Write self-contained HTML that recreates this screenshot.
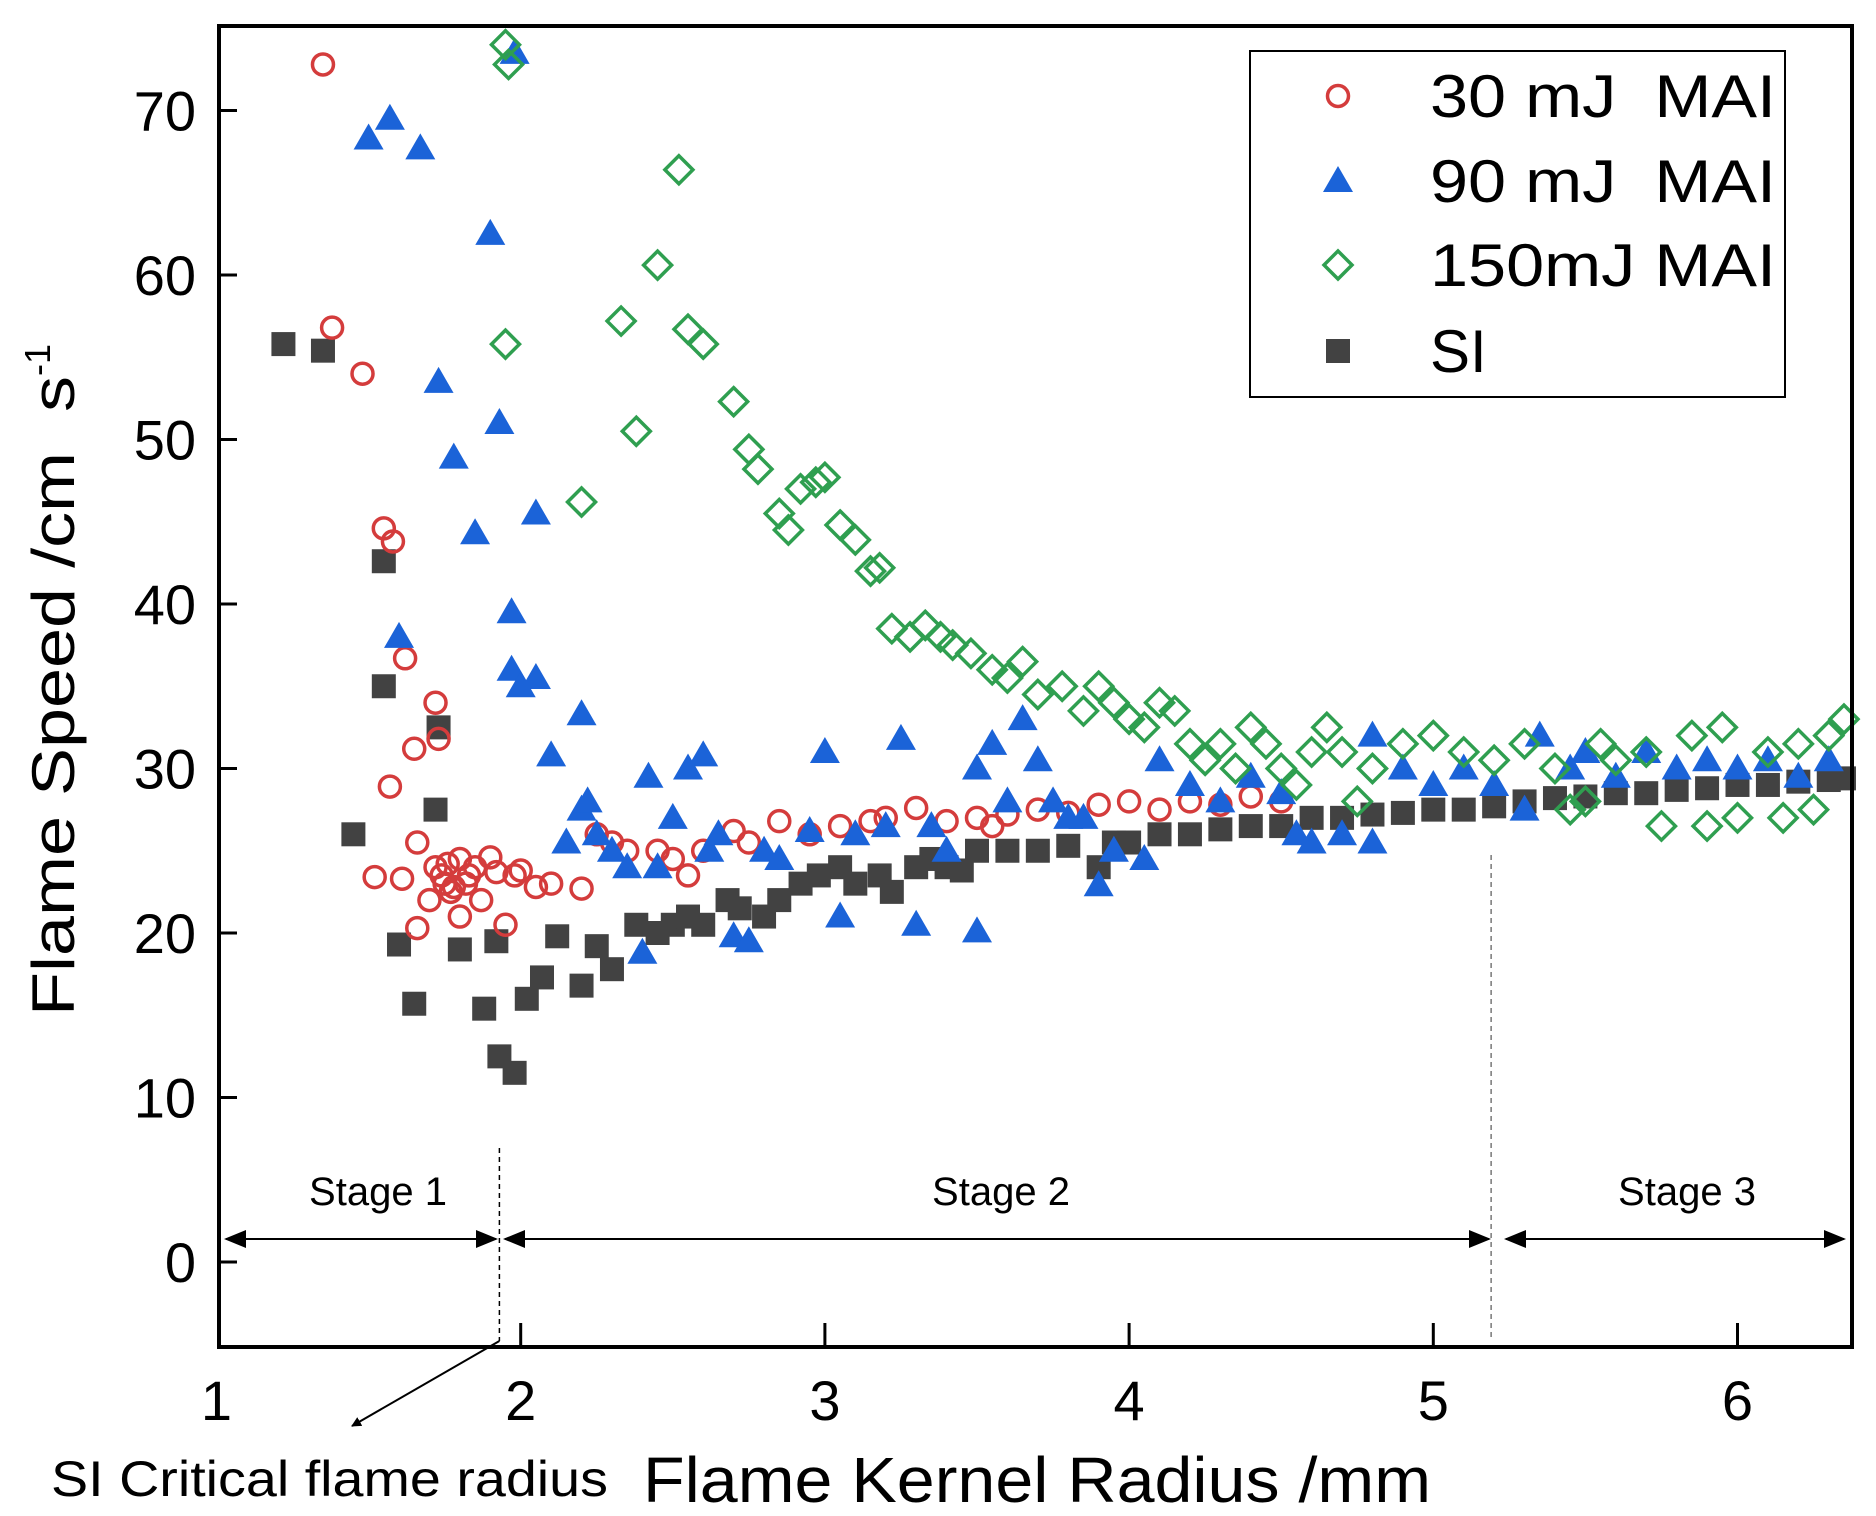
<!DOCTYPE html>
<html><head><meta charset="utf-8"><style>
html,body{margin:0;padding:0;background:#fff;}
svg{display:block;font-family:"Liberation Sans",Arial,sans-serif;}
</style></head><body>
<svg id="chart" width="1876" height="1516" viewBox="0 0 1876 1516">
<defs>
<marker id="ah" markerWidth="10" markerHeight="10" refX="9" refY="5" orient="auto" markerUnits="userSpaceOnUse"><path d="M0,0 L10,5 L0,10 z" fill="#000"/></marker>
<marker id="ah2" markerWidth="22" markerHeight="18" refX="20" refY="9" orient="auto-start-reverse" markerUnits="userSpaceOnUse"><path d="M0,0 L22,9 L0,18 z" fill="#000"/></marker>
</defs>
<g id="plot"></g>
</svg>
<script>
const xTicks=[1,2,3,4,5,6];
const yTicks=[0,10,20,30,40,50,60,70];
const si_x=[1.22,1.35,1.45,1.55,1.55,1.6,1.65,1.73,1.72,1.8,1.88,1.92,1.93,1.98,2.02,2.07,2.12,2.2,2.25,2.3,2.38,2.45,2.5,2.55,2.6,2.68,2.72,2.8,2.85,2.92,2.98,3.05,3.1,3.18,3.22,3.3,3.35,3.4,3.45,3.5,3.6,3.7,3.8,3.9,3.95,4.0,4.1,4.2,4.3,4.4,4.5,4.6,4.7,4.8,4.9,5.0,5.1,5.2,5.3,5.4,5.5,5.6,5.7,5.8,5.9,6.0,6.1,6.2,6.3,6.35];
const si_y=[55.8,55.4,26,42.6,35,19.3,15.7,32.5,27.5,19,15.4,19.5,12.5,11.5,16,17.3,19.8,16.8,19.2,17.8,20.5,20,20.5,21,20.5,22,21.5,21,22,23,23.5,24,23,23.5,22.5,24,24.5,24,23.8,25,25,25,25.3,24,25.5,25.5,26,26,26.3,26.5,26.5,27,27,27.2,27.3,27.5,27.5,27.7,28,28.2,28.3,28.5,28.5,28.7,28.8,29,29,29.2,29.3,29.4];
const mai30_x=[1.35,1.38,1.48,1.52,1.55,1.58,1.57,1.62,1.61,1.65,1.66,1.66,1.72,1.73,1.7,1.72,1.75,1.77,1.8,1.8,1.83,1.85,1.87,1.9,1.92,1.95,1.98,2.0,2.05,2.1,2.2,2.25,2.3,2.35,2.45,2.5,2.55,2.6,2.7,2.75,2.85,2.95,3.05,3.15,3.2,3.3,3.4,3.5,3.55,3.6,3.7,3.8,3.9,4.0,4.1,4.2,4.3,4.4,4.5,1.74,1.78,1.82,1.76];
const mai30_y=[72.8,56.8,54,23.4,44.6,43.8,28.9,36.7,23.3,31.2,25.5,20.3,34,31.8,22,24,23,22.5,24.5,21,23.5,24,22,24.6,23.7,20.5,23.5,23.8,22.8,23,22.7,26,25.5,25,25,24.5,23.5,25,26.2,25.5,26.8,26,26.5,26.8,27,27.6,26.8,27,26.5,27.2,27.5,27.3,27.8,28,27.5,28,27.8,28.3,28,23.5,22.8,23,24.2];
const mai90_x=[1.5,1.57,1.67,1.73,1.78,1.85,1.9,1.93,1.98,1.6,1.97,1.97,2.0,2.05,2.05,2.1,2.15,2.2,2.2,2.22,2.25,2.3,2.35,2.4,2.42,2.45,2.5,2.55,2.6,2.62,2.65,2.7,2.75,2.8,2.85,2.95,3.0,3.05,3.1,3.2,3.25,3.3,3.35,3.4,3.5,3.5,3.55,3.6,3.65,3.7,3.75,3.8,3.85,3.9,3.95,4.05,4.1,4.2,4.3,4.4,4.5,4.55,4.6,4.7,4.8,4.8,4.9,5.0,5.1,5.2,5.3,5.35,5.45,5.5,5.6,5.7,5.8,5.9,6.0,6.1,6.2,6.3];
const mai90_y=[68.3,69.5,67.7,53.5,48.9,44.3,62.5,51,73.5,38,39.5,36,35,35.5,45.5,30.8,25.5,27.5,33.3,28,26,25,24,18.8,29.5,24,27,30,30.8,25,26,19.8,19.5,25,24.5,26.2,31,21,26,26.5,31.8,20.5,26.5,25,20.1,30,31.5,28,33,30.5,28,27,27,22.9,25,24.5,30.5,29,28,29.5,28.5,26,25.5,26,25.5,32,30,29,30,29,27.5,32,30,31,29.5,31,30,30.5,30,30.5,29.5,30.5];
const mai150_x=[1.95,1.96,1.95,2.2,2.33,2.38,2.45,2.52,2.55,2.6,2.7,2.75,2.78,2.85,2.88,2.92,2.97,3.0,3.05,3.1,3.15,3.18,3.22,3.28,3.33,3.38,3.42,3.48,3.55,3.6,3.65,3.7,3.78,3.85,3.9,3.95,4.0,4.05,4.1,4.15,4.2,4.25,4.3,4.35,4.4,4.45,4.5,4.55,4.6,4.65,4.7,4.75,4.8,4.9,5.0,5.1,5.2,5.3,5.4,5.45,5.5,5.55,5.6,5.7,5.75,5.85,5.9,5.95,6.0,6.1,6.15,6.2,6.25,6.3,6.35];
const mai150_y=[74,72.8,55.8,46.2,57.2,50.5,60.6,66.4,56.7,55.8,52.3,49.4,48.2,45.5,44.5,47,47.4,47.7,44.8,43.9,42,42.2,38.5,38,38.7,38,37.5,37,36,35.5,36.5,34.5,35,33.5,35,34,33,32.5,34,33.5,31.5,30.5,31.5,30,32.5,31.5,30,29,31,32.5,31,28,30,31.5,32,31,30.5,31.5,30,27.5,28,31.5,30.5,31,26.5,32,26.5,32.5,27,31,27,31.5,27.5,32,33];

const NS='http://www.w3.org/2000/svg';
const L=219,R=1852,T=26,B=1347;
const X=v=>216.5+(v-1)*304.2;
const Y=v=>1262-v*16.45;
const g=document.getElementById('plot');
function mk(tag,attrs,parent){const e=document.createElementNS(NS,tag);for(const k in attrs)e.setAttribute(k,attrs[k]);(parent||g).appendChild(e);return e;}

const ann=mk('g',{});


mk('line',{x1:X(1.93),y1:1148,x2:X(1.93),y2:1341,stroke:'#000','stroke-width':1.5,'stroke-dasharray':'5,4'},ann);
mk('line',{x1:X(5.19),y1:855,x2:X(5.19),y2:1341,stroke:'#555','stroke-width':1.2,'stroke-dasharray':'5,4'},ann);
[[226,496],[505,1489],[1506,1844]].forEach(p=>{mk('line',{x1:p[0],y1:1239,x2:p[1],y2:1239,stroke:'#000','stroke-width':2,'marker-start':'url(#ah2)','marker-end':'url(#ah2)'},ann);});
[['Stage 1',378],['Stage 2',1001],['Stage 3',1687]].forEach(s=>{const t=mk('text',{x:s[1],y:1205,'font-size':40,'text-anchor':'middle'},ann);t.textContent=s[0];});
mk('line',{x1:X(1.93),y1:1341,x2:352,y2:1426,stroke:'#000','stroke-width':2,'marker-end':'url(#ah)'},ann);

function drawSquare(x,y){const e=mk('rect',{x:X(x)-12,y:Y(y)-12,width:24,height:24,fill:'#424242'});

}
function drawCircle(x,y){const e=mk('circle',{cx:X(x),cy:Y(y),r:10.5,fill:'none',stroke:'#d43c3c','stroke-width':3.5});

}
function drawTri(x,y){const cx=X(x),cy=Y(y);const e=mk('polygon',{points:`${cx},${cy-15} ${cx+15},${cy+11} ${cx-15},${cy+11}`,fill:'#1b63d8'});

}
function drawDia(x,y){const cx=X(x),cy=Y(y);const e=mk('polygon',{points:`${cx},${cy-14} ${cx+14},${cy} ${cx},${cy+14} ${cx-14},${cy}`,fill:'none',stroke:'#2f9f50','stroke-width':3.5});

}
si_x.forEach((x,i)=>drawSquare(x,si_y[i]));
mai30_x.forEach((x,i)=>drawCircle(x,mai30_y[i]));
mai90_x.forEach((x,i)=>drawTri(x,mai90_y[i]));
mai150_x.forEach((x,i)=>drawDia(x,mai150_y[i]));

const fr=mk('rect',{x:L,y:T,width:R-L,height:B-T,fill:'none',stroke:'#000','stroke-width':4});


xTicks.forEach(v=>{
  if(v>1){mk('line',{x1:X(v),y1:B,x2:X(v),y2:B-24,stroke:'#000','stroke-width':3});}
  const t=mk('text',{x:X(v),y:1420,'font-size':56,'text-anchor':'middle'});t.textContent=v;
  
  
});
yTicks.forEach(v=>{
  mk('line',{x1:L,y1:Y(v),x2:L+18,y2:Y(v),stroke:'#000','stroke-width':3});
  const t=mk('text',{x:196,y:Y(v)+20,'font-size':56,'text-anchor':'end'});t.textContent=v;
  
  
});
</script>
<script>
const svg=document.getElementById('chart');
const N='http://www.w3.org/2000/svg';
function add(tag,a,p){const e=document.createElementNS(N,tag);for(const k in a)e.setAttribute(k,a[k]);(p||svg).appendChild(e);return e;}
const yt=add('text',{x:0,y:0,'font-size':60,'text-anchor':'middle',transform:'translate(74,680) rotate(-90)'});


yt.innerHTML='<tspan textLength="640" lengthAdjust="spacingAndGlyphs">Flame Speed /cm&#160;&#160;s</tspan><tspan font-size="36" dy="-24">-1</tspan>';
const xt=add('text',{x:643,y:1502,'font-size':64,textLength:788,lengthAdjust:'spacingAndGlyphs'});


xt.textContent='Flame Kernel Radius /mm';
const ct=add('text',{x:51,y:1496,'font-size':50,textLength:557,lengthAdjust:'spacingAndGlyphs'});


ct.textContent='SI Critical flame radius';
const lg=add('g',{});


add('rect',{x:1250,y:51,width:535,height:346,fill:'#fff',stroke:'#000','stroke-width':2},lg);
const items=[['30 mJ  MAI','c',96,346],['90 mJ  MAI','t',181,346],['150mJ MAI','d',265,346],['SI','s',351,0]];
items.forEach(it=>{
  const cx=1338,cy=it[2];
  if(it[1]=='c')add('circle',{cx:cx,cy:cy,r:10.5,fill:'none',stroke:'#d43c3c','stroke-width':3.5},lg);
  if(it[1]=='t')add('polygon',{points:`${cx},${cy-15} ${cx+15},${cy+11} ${cx-15},${cy+11}`,fill:'#1b63d8'},lg);
  if(it[1]=='d')add('polygon',{points:`${cx},${cy-14} ${cx+14},${cy} ${cx},${cy+14} ${cx-14},${cy}`,fill:'none',stroke:'#2f9f50','stroke-width':3.5},lg);
  if(it[1]=='s')add('rect',{x:cx-12,y:cy-12,width:24,height:24,fill:'#424242'},lg);
  const a={x:1430,y:cy+21,'font-size':60};
  if(it[3]){a.textLength=it[3];a.lengthAdjust='spacingAndGlyphs';}
  const t=add('text',a,lg);
  
  
  t.style.whiteSpace='pre';
  t.textContent=it[0];
});
</script>
</body></html>
